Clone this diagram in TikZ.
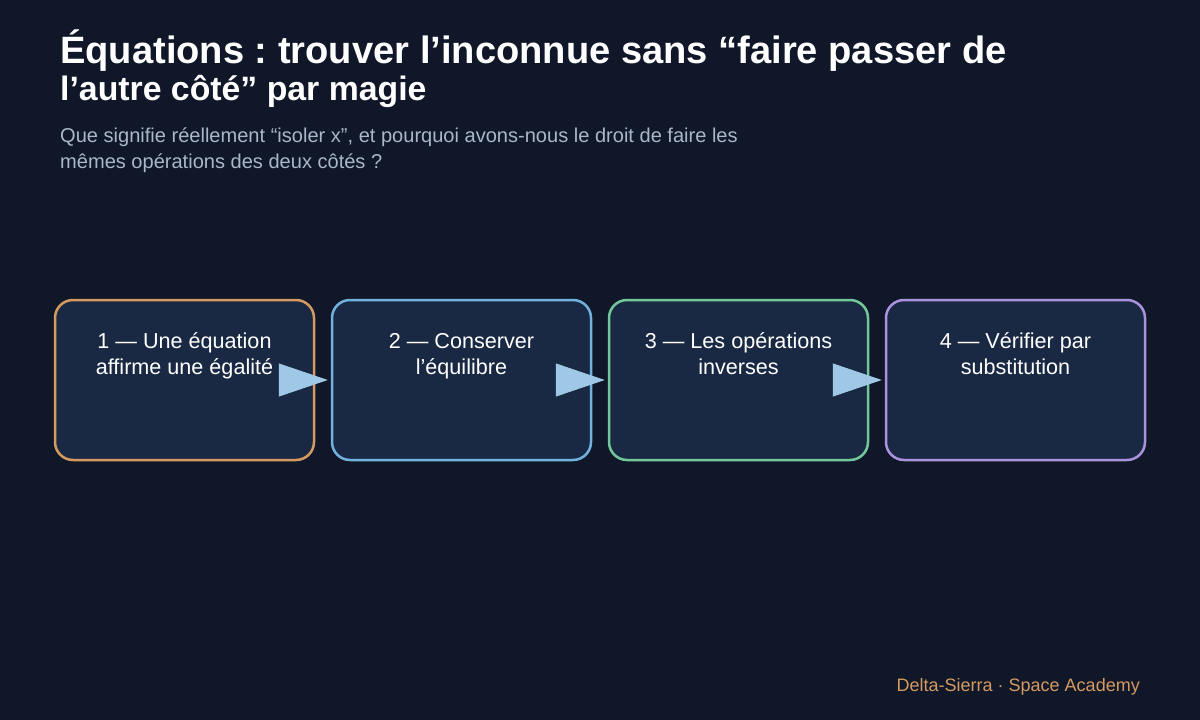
\documentclass[tikz,border=0pt]{standalone}
\usepackage{fontspec}
\setmainfont{Liberation Sans}
\usetikzlibrary{arrows.meta}
\frenchspacing
\definecolor{bg}{HTML}{0F1729}
\definecolor{boxfill}{HTML}{1A2943}
\definecolor{corange}{HTML}{D49A60}
\definecolor{cblue}{HTML}{72B2DE}
\definecolor{cgreen}{HTML}{72C898}
\definecolor{cpurple}{HTML}{AA92DC}
\definecolor{arrowc}{HTML}{9FC8E6}
\definecolor{subc}{HTML}{A9B7CA}
\definecolor{footc}{HTML}{D49A60}
\tikzset{
  stepbox/.style={draw=#1, fill=boxfill, line width=2.5pt, rounded corners=18pt,
    minimum width=259pt, minimum height=160pt, inner sep=0pt},
  steplabel/.style={anchor=base, align=center, text=white, inner sep=0pt,
    font=\fontsize{21.6}{26}\selectfont},
  flowarrow/.style={draw=arrowc, fill=arrowc, line width=1pt,
    -{Triangle[length=49pt,width=33pt]}},
  titlefont/.style={anchor=base west, inner sep=0pt, text=white},
  subfont/.style={anchor=base west, inner sep=0pt, text=subc, font=\fontsize{20.05}{26}\selectfont}
}
\begin{document}
\begin{tikzpicture}[x=1pt,y=-1pt]
\fill[bg] (0,0) rectangle (1200,720);
\useasboundingbox (0,0) rectangle (1200,720);

\node[titlefont, font=\bfseries\fontsize{38.1}{42}\selectfont] (t1) at (60,63) {Équations : trouver l’inconnue sans “faire passer de};
\node[titlefont, font=\bfseries\fontsize{33.8}{38}\selectfont] (t2) at (60,100) {l’autre côté” par magie};

\node[subfont] (s1) at (60,142) {Que signifie réellement “isoler x”, et pourquoi avons-nous le droit de faire les};
\node[subfont] (s2) at (60,168) {mêmes opérations des deux côtés ?};

\node[stepbox=corange] (b1) at (184.5,380) {};
\node[stepbox=cblue]   (b2) at (461.5,380) {};
\node[stepbox=cgreen]  (b3) at (738.5,380) {};
\node[stepbox=cpurple] (b4) at (1015.5,380) {};

\node[steplabel] (l1) at (184.5,374) {1 — Une équation\\affirme une égalité};
\node[steplabel] (l2) at (461.5,374) {2 — Conserver\\l’équilibre};
\node[steplabel] (l3) at (738.5,374) {3 — Les opérations\\inverses};
\node[steplabel] (l4) at (1015.5,374) {4 — Vérifier par\\substitution};

\draw[flowarrow] (b1.east) -- ([xshift=-3pt]b2.west);
\draw[flowarrow] (b2.east) -- ([xshift=-3pt]b3.west);
\draw[flowarrow] (b3.east) -- ([xshift=-3pt]b4.west);

\node[anchor=base east, inner sep=0pt, text=footc, font=\fontsize{18}{22}\selectfont] (f) at (1140,691) {Delta-Sierra · Space Academy};
\end{tikzpicture}
\end{document}
